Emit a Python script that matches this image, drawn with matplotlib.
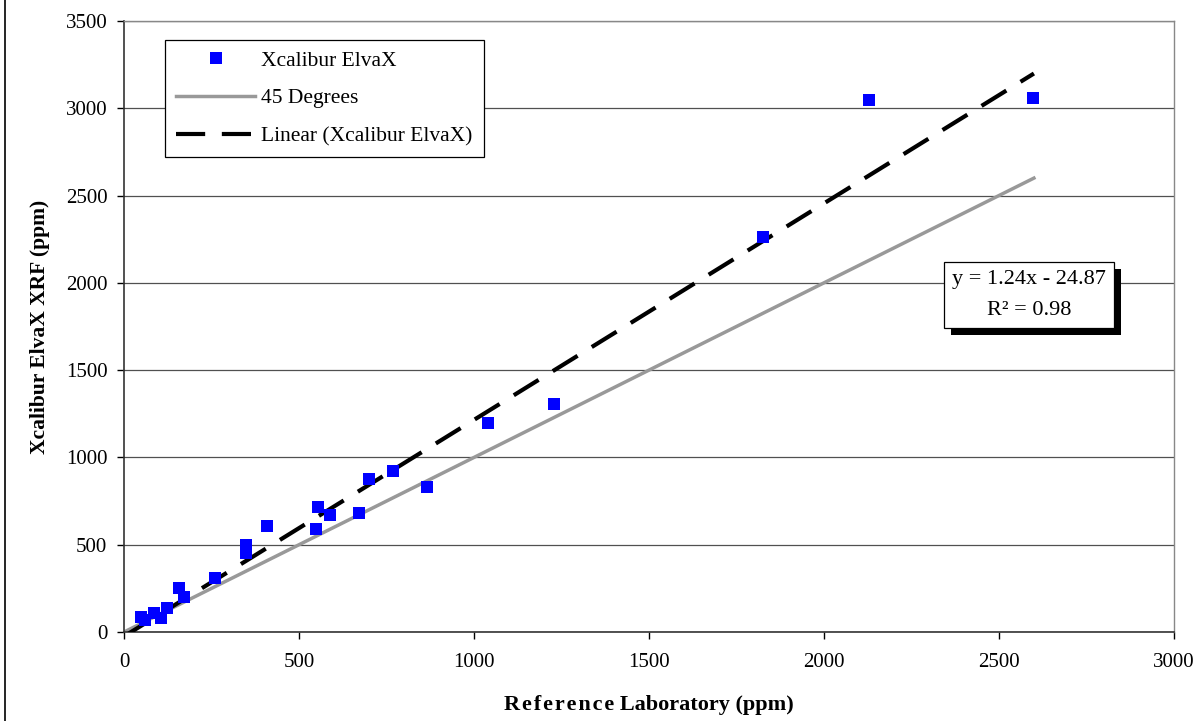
import numpy as np
import matplotlib
matplotlib.use("Agg")
import matplotlib.pyplot as plt
import matplotlib.patheffects as pe
from matplotlib.lines import Line2D

# ── Data ─────────────────────────────────────────────────────────────────────
ref_lab = [48, 60, 87, 105, 122, 157, 172, 260, 350, 350, 408, 550, 555,
           589, 672, 701, 770, 865, 1041, 1228, 1826, 2128, 2596]
xcalibur = [85, 68, 110, 80, 140, 255, 200, 310, 500, 455, 605, 590, 718,
            672, 682, 875, 920, 832, 1195, 1305, 2265, 3050, 3060]
line_x = [0, 2600]          # range of the 45-degree and trend lines
slope, intercept = 1.24, -24.87
r2 = 0.98

plt.rcParams['font.family'] = ['Liberation Serif', 'DejaVu Serif']

fig = plt.figure(figsize=(12.04, 7.21), dpi=100)
ax = fig.add_axes([0.103, 0.1234, 0.872, 0.8475])

# gridlines
ax.set_axisbelow(True)
ax.grid(axis='y', color='#505050', linewidth=0.9)

# 45-degree line
ax.plot(line_x, line_x, color='#999999', linewidth=2.5, label='45 Degrees', zorder=2)

# trend line
tx = np.array(line_x, dtype=float)
ax.plot(tx, slope * tx + intercept, color='black', linewidth=3,
        dashes=(7, 4), label='Linear (Xcalibur ElvaX)', zorder=3)

# data points
ax.plot(ref_lab, xcalibur, linestyle='none', marker='s', markersize=8,
        color='#0000ff', markeredgewidth=0, label='Xcalibur ElvaX', zorder=4)

ax.set_xlim(0, 3000)
ax.set_ylim(0, 3500)
ax.set_xticks(np.arange(0, 3001, 500))
ax.set_yticks(np.arange(0, 3501, 500))
ax.tick_params(direction='out', length=5, width=1, labelsize=15, colors='black')
ax.tick_params(axis='x', pad=10)
ax.tick_params(axis='y', pad=7)

for side in ['left', 'bottom']:
    ax.spines[side].set_color('#333333')
    ax.spines[side].set_linewidth(1.2)
for side in ['top', 'right']:
    ax.spines[side].set_color('#888888')
    ax.spines[side].set_linewidth(1.0)

# "Reference" is letter-spaced in the original
xlab = '\u200a'.join('Reference') + ' Laboratory (ppm)'
ax.set_xlabel(xlab, fontsize=16, fontweight='bold', labelpad=17)
ax.set_ylabel('Xcalibur ElvaX XRF (ppm)', fontsize=15.5, fontweight='bold', labelpad=11)

# legend
handles, labels = ax.get_legend_handles_labels()
order = [2, 0, 1]
leg = ax.legend([handles[i] for i in order], [labels[i] for i in order],
                loc='upper left', bbox_to_anchor=(0.039, 0.969), borderaxespad=0,
                fontsize=15.5, frameon=True, fancybox=False, edgecolor='black',
                framealpha=1, handlelength=3.7, handletextpad=0.28,
                labelspacing=0.82, borderpad=0.5)
leg.get_frame().set_linewidth(0.9)

# equation box with shadow
eq = ax.text(2587, 1930, f'y = {slope:.2f}x - {abs(intercept):.2f}\nR² = {r2:.2f}',
             ha='center', va='center', fontsize=16, linespacing=1.9,
             bbox=dict(boxstyle='square,pad=0.36', facecolor='white',
                       edgecolor='black', linewidth=0.9), zorder=6)
eq.get_bbox_patch().set_path_effects([
    pe.SimplePatchShadow(offset=(5, -5), shadow_rgbFace='black', alpha=1),
    pe.Normal()])

# outer frame edge on the left
fig.add_artist(Line2D([5 / 1204, 5 / 1204], [0, 1], color='black', linewidth=1.2))

fig.savefig('out.png', dpi=100)
